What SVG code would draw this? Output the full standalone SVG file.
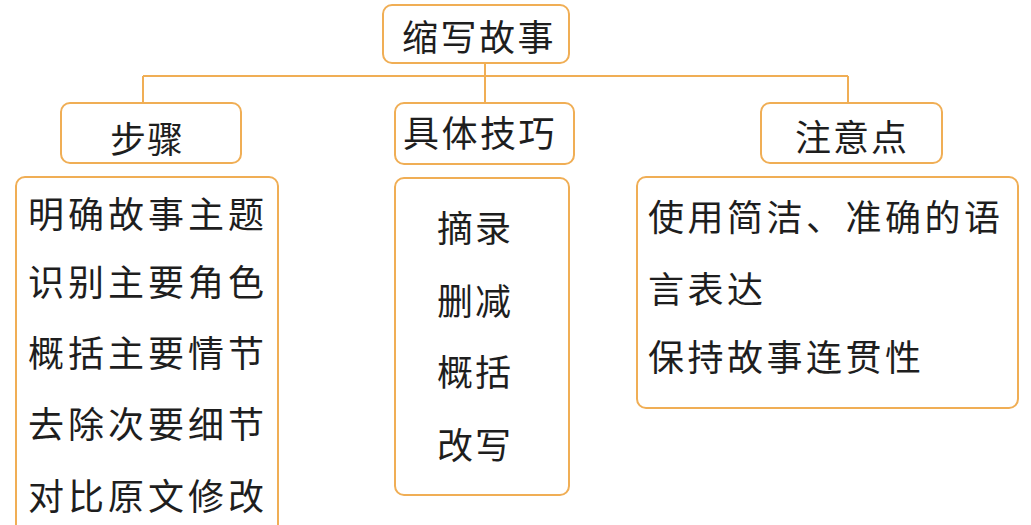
<svg xmlns="http://www.w3.org/2000/svg" width="1031" height="525" viewBox="0 0 1031 525">
<style>
.box{fill:#fff;stroke:#F0AE55;stroke-width:2}
.ln{fill:none;stroke:#F0AE55;stroke-width:2}
text{font-family:"Noto Sans CJK SC","Noto Sans CJK JP",sans-serif;font-size:36px;fill:#1e1e1e}
</style>
<rect width="1031" height="525" fill="#fff"/>
<g id="connectors">
<path class="ln" d="M485 63V103M143 76H848M143 76V103M848 76V103"/>
</g>
<g id="root">
<rect class="box" x="383" y="5" width="186" height="58" rx="9"/>
<text x="402" y="51" letter-spacing="2.5">缩写故事</text>
</g>
<g id="steps">
<rect class="box" x="61" y="103" width="180" height="60" rx="9"/>
<text x="110" y="153" letter-spacing="1">步骤</text>
</g>
<g id="skills">
<rect class="box" x="395" y="103" width="179" height="61" rx="9"/>
<text x="403" y="147" letter-spacing="2.5">具体技巧</text>
</g>
<g id="notes">
<rect class="box" x="761" y="103" width="181" height="60" rx="9"/>
<text x="795" y="151" letter-spacing="2">注意点</text>
</g>
<g id="steps-list">
<rect class="box" x="16" y="177" width="262" height="370" rx="9"/>
<text x="28" y="228" letter-spacing="4">明确故事主题</text>
<text x="28" y="296" letter-spacing="4">识别主要角色</text>
<text x="28" y="367" letter-spacing="4">概括主要情节</text>
<text x="28" y="438" letter-spacing="4">去除次要细节</text>
<text x="28" y="510" letter-spacing="4">对比原文修改</text>
</g>
<g id="skills-list">
<rect class="box" x="395" y="178" width="174" height="317" rx="9"/>
<text x="437" y="242" letter-spacing="2">摘录</text>
<text x="437" y="315" letter-spacing="2">删减</text>
<text x="437" y="386" letter-spacing="2">概括</text>
<text x="437" y="459" letter-spacing="2">改写</text>
</g>
<g id="notes-list">
<rect class="box" x="637" y="177" width="381" height="231" rx="9"/>
<text x="648" y="231" letter-spacing="3.5">使用简洁、准确的语</text>
<text x="648" y="303" letter-spacing="3.5">言表达</text>
<text x="648" y="371" letter-spacing="3.5">保持故事连贯性</text>
</g>
</svg>
